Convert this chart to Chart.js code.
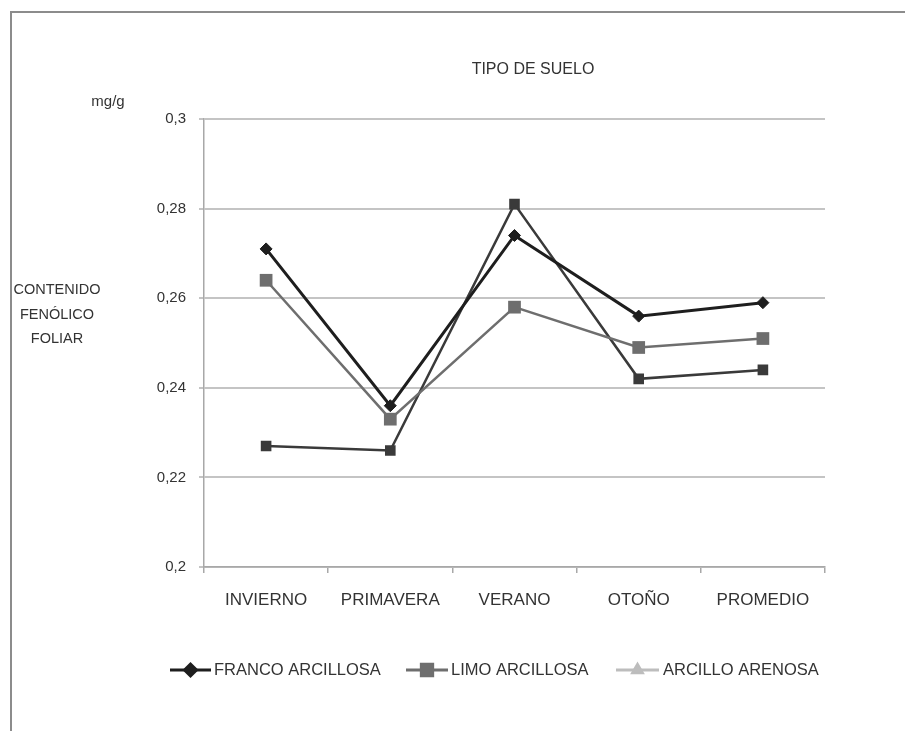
<!DOCTYPE html>
<html>
<head>
<meta charset="utf-8">
<script src="https://cdn.jsdelivr.net/npm/chart.js@4/dist/chart.umd.min.js"></script>
<style>
html,body{margin:0;padding:0;background:#fff;}
#wrap{width:905px;height:731px;position:relative;}
</style>
</head>
<body>
<div id="wrap"><canvas id="c" width="905" height="731"></canvas></div>
<script>
const categories = ["INVIERNO", "PRIMAVERA", "VERANO", "OTOÑO", "PROMEDIO"];
const francoArcillosa = [0.271, 0.236, 0.274, 0.256, 0.259];
const limoArcillosa = [0.264, 0.233, 0.258, 0.249, 0.251];
const arcilloArenosa = [0.227, 0.226, 0.281, 0.242, 0.244];
const seriesNames = ["FRANCO ARCILLOSA", "LIMO ARCILLOSA", "ARCILLO ARENOSA"];
const yTicks = [0.2, 0.22, 0.24, 0.26, 0.28, 0.3];
const chartTitle = "TIPO DE SUELO";
const unitLabel = "mg/g";
const yTitleLines = ["CONTENIDO", "FENÓLICO", "FOLIAR"];

const FONT = "'Liberation Sans', Arial, sans-serif";
const TXT = "#333";

const legendStyles = [
  {line:"#1e1e1e", marker:"#1e1e1e", shape:"rectRot", r:6},
  {line:"#6e6e6e", marker:"#6e6e6e", shape:"rect", r:8},
  {line:"#bdbdbd", marker:"#bdbdbd", shape:"triangle", r:5.5}
];

const decorPlugin = {
  id: "decor",
  beforeDraw(chart) {
    const ctx = chart.ctx;
    ctx.save();
    ctx.fillStyle = "#fff";
    ctx.fillRect(0,0,chart.width,chart.height);
    ctx.strokeStyle = "#8c8c8c";
    ctx.lineWidth = 2;
    ctx.beginPath();
    ctx.moveTo(11, chart.height + 5);
    ctx.lineTo(11, 12);
    ctx.lineTo(chart.width + 5, 12);
    ctx.stroke();
    ctx.restore();
  },
  afterDraw(chart) {
    const ctx = chart.ctx;
    ctx.save();
    ctx.fillStyle = TXT;
    ctx.textBaseline = "middle";
    ctx.textAlign = "center";
    ctx.font = "16px " + FONT;
    ctx.fillText(chartTitle, 533, 70);
    ctx.font = "15px " + FONT;
    ctx.fillText(unitLabel, 108, 102);
    ctx.font = "14.5px " + FONT;
    yTitleLines.forEach((t, i) => ctx.fillText(t, 57, 290 + i * 24.5));
    // legend
    ctx.font = "16.5px " + FONT;
    const items = [
      {x:170, w:41, tx:214, name:seriesNames[0]},
      {x:406, w:42, tx:451, name:seriesNames[1]},
      {x:616, w:43, tx:663, name:seriesNames[2]}
    ];
    const ly = 670;
    items.forEach((it, i) => {
      const st = legendStyles[i];
      ctx.strokeStyle = st.line;
      ctx.lineWidth = 3;
      ctx.beginPath();
      ctx.moveTo(it.x, ly);
      ctx.lineTo(it.x + it.w, ly);
      ctx.stroke();
      Chart.helpers.drawPoint(ctx, {pointStyle: st.shape, radius: st.r, rotation: 0, borderWidth: 1}, it.x + it.w / 2, ly);
      ctx.fillStyle = st.marker;
      ctx.fill();
      ctx.fillStyle = TXT;
      ctx.textAlign = "left";
      ctx.fillText(it.name, it.tx, ly);
    });
    ctx.restore();
  }
};

new Chart(document.getElementById("c"), {
  type: "line",
  data: {
    labels: categories,
    datasets: [
      {label: seriesNames[0], data: francoArcillosa, borderColor:"#1e1e1e", backgroundColor:"#1e1e1e",
       borderWidth:3, pointStyle:"rectRot", pointRadius:6, pointBorderWidth:1, tension:0, order:1},
      {label: seriesNames[1], data: limoArcillosa, borderColor:"#6e6e6e", backgroundColor:"#6e6e6e",
       borderWidth:2.5, pointStyle:"rect", pointRadius:9, pointBorderWidth:0, tension:0, order:2},
      {label: seriesNames[2], data: arcilloArenosa, borderColor:"#3a3a3a", backgroundColor:"#3a3a3a",
       borderWidth:2.5, pointStyle:"rect", pointRadius:7.5, pointBorderWidth:0, tension:0, order:3}
    ]
  },
  options: {
    responsive: false,
    animation: false,
    devicePixelRatio: 1,
    layout: {padding: {top: 119, right: 80, bottom: 114, left: 0}},
    plugins: {legend: {display: false}, title: {display: false}, tooltip: {enabled: false}},
    scales: {
      x: {
        offset: true,
        afterFit(s) { s.height = 50; },
        grid: {offset: true, drawOnChartArea: false, drawTicks: true, tickLength: 6, color: "#a8a8a8", lineWidth: 1.5},
        border: {color: "#a8a8a8", width: 1.5},
        ticks: {color: TXT, font: {family: FONT, size: 17}, padding: 17, maxRotation: 0}
      },
      y: {
        min: 0.2, max: 0.3,
        afterFit(s) { s.width = 204; },
        afterBuildTicks(s) { s.ticks = yTicks.map(v => ({value: v})); },
        grid: {color: "#c4c4c4", lineWidth: 2, tickLength: 5},
        border: {color: "#a8a8a8", width: 1.5},
        ticks: {color: TXT, font: {family: FONT, size: 15}, padding: 13,
                callback: v => String(Math.round(v * 100) / 100).replace(".", ",")}
      }
    }
  },
  plugins: [decorPlugin]
});
</script>
</body>
</html>
